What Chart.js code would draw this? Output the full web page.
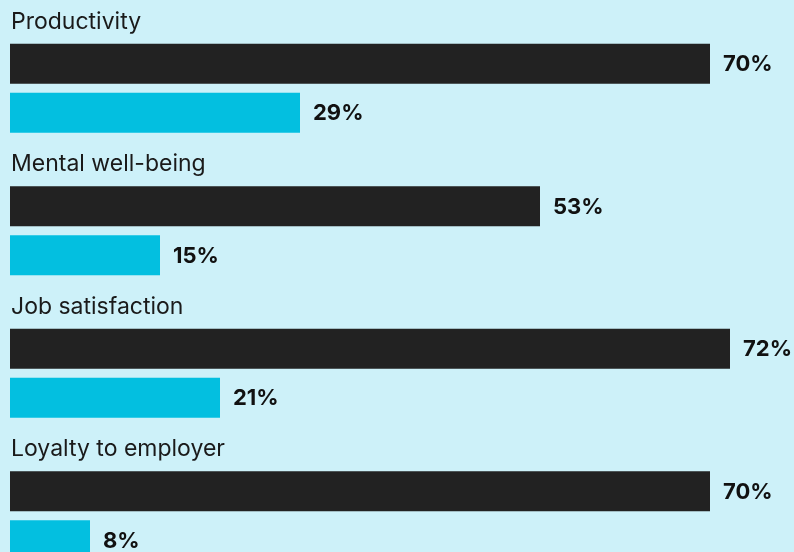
<!DOCTYPE html>
<html>
<head>
    <title>Workplace Impact Chart</title>
    <script src="https://cdn.jsdelivr.net/npm/chart.js"></script>
    <style>
        html, body { margin: 0; padding: 0; background: #cdf1f9; overflow: hidden; }
        #wrap { width: 794px; height: 552px; overflow: hidden; }
    </style>
</head>
<body>
    <div id="wrap">
        <canvas id="myChart" width="794" height="587"></canvas>
    </div>

    <script>
        const categories = ['Productivity', 'Mental well-being', 'Job satisfaction', 'Loyalty to employer'];
        const darkValues = [70, 53, 72, 70];
        const cyanValues = [29, 15, 21, 8];

        // value labels at the end of each bar, category titles above each group
        const labelPlugin = {
            id: 'barLabels',
            afterDatasetsDraw(chart) {
                const ctx = chart.ctx;
                ctx.save();
                chart.data.datasets.forEach((ds, i) => {
                    const meta = chart.getDatasetMeta(i);
                    meta.data.forEach((bar, j) => {
                        ctx.font = 'bold 22px Inter';
                        ctx.fillStyle = '#111111';
                        ctx.textBaseline = 'middle';
                        ctx.textAlign = 'left';
                        ctx.fillText(ds.data[j] + '%', bar.x + 13, bar.y + 1);
                        if (i === 0) {
                            ctx.font = '23px Inter';
                            ctx.fillStyle = '#1a1a1a';
                            ctx.textBaseline = 'alphabetic';
                            ctx.fillText(categories[j], chart.chartArea.left + 1, bar.y - bar.height / 2 - 15);
                        }
                    });
                });
                ctx.restore();
            }
        };

        const ctx = document.getElementById('myChart').getContext('2d');
        new Chart(ctx, {
            type: 'bar',
            data: {
                labels: categories,
                datasets: [
                    {
                        label: 'Dark',
                        data: darkValues,
                        backgroundColor: '#222222',
                        categoryPercentage: 0.688,
                        barPercentage: 0.816
                    },
                    {
                        label: 'Cyan',
                        data: cyanValues,
                        backgroundColor: '#03bfe0',
                        categoryPercentage: 0.688,
                        barPercentage: 0.816
                    }
                ]
            },
            options: {
                indexAxis: 'y',
                responsive: false,
                animation: false,
                layout: { padding: { top: 17, left: 10, right: 0, bottom: 0 } },
                plugins: {
                    legend: { display: false },
                    tooltip: { enabled: false }
                },
                scales: {
                    x: { display: false, min: 0, max: 78.4 },
                    y: { display: false, offset: true }
                }
            },
            plugins: [labelPlugin]
        });
    </script>
</body>
</html>
